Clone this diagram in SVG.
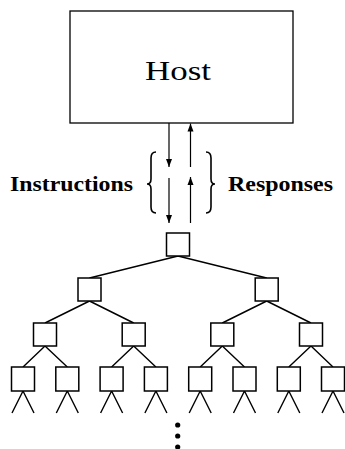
<svg xmlns="http://www.w3.org/2000/svg" width="345" height="449" viewBox="0 0 345 449">
<style>
.bx{fill:#fff;stroke:#000;stroke-width:1.5}
.ln{stroke:#000;stroke-width:1.4;fill:none}
.ar{stroke:#000;stroke-width:1.2;fill:none}
.br{stroke:#000;stroke-width:1.6;fill:none}
.lbl{font-family:"Liberation Serif",serif;font-weight:bold;font-size:21px;fill:#000}
.host{font-family:"Liberation Serif",serif;font-size:28px;fill:#000}
</style>
<defs>
<marker id="ah" viewBox="0 0 8 8" refX="8" refY="4" markerWidth="8" markerHeight="8" markerUnits="userSpaceOnUse" orient="auto">
<path d="M0,1 L8,4 L0,7 Z" fill="#000"/>
</marker>
</defs>
<rect width="345" height="449" fill="#fff"/>
<g id="host">
<rect x="70" y="11" width="223" height="112" fill="#fff" stroke="#000" stroke-width="1.3"/>
<text class="host" x="178" y="80" text-anchor="middle" textLength="66" lengthAdjust="spacingAndGlyphs">Host</text>
</g>
<g id="labels">
<text class="lbl" x="10" y="191" textLength="123" lengthAdjust="spacingAndGlyphs">Instructions</text>
<text class="lbl" x="228" y="191" textLength="105" lengthAdjust="spacingAndGlyphs">Responses</text>
<path class="br" d="M156,152 Q151,152 151,158 L151,179 Q151,184 147,184 Q151,184 151,189 L151,207 Q151,213 156,213"/>
<path class="br" d="M206,152 Q211,152 211,158 L211,179 Q211,184 215,184 Q211,184 211,189 L211,207 Q211,213 206,213"/>
</g>
<g id="connectors">
<line class="ar" x1="169" y1="123" x2="169" y2="167" marker-end="url(#ah)"/>
<line class="ar" x1="169" y1="178" x2="169" y2="223" marker-end="url(#ah)"/>
<line class="ar" x1="190.5" y1="167" x2="190.5" y2="123.5" marker-end="url(#ah)"/>
<line class="ar" x1="190.5" y1="223" x2="190.5" y2="177" marker-end="url(#ah)"/>
<path class="ln" d="M178,256 L89.5,278 M178,256 L266.7,278
M89.5,301 L45,323 M89.5,301 L133.7,323 M266.7,301 L222.3,323 M266.7,301 L311,323
M45,346 L23,367 M45,346 L67.3,367 M133.7,346 L111.6,367 M133.7,346 L155.9,367
M222.3,346 L200.2,367 M222.3,346 L244.5,367 M311,346 L288.8,367 M311,346 L333,367
M23,391 L12,413 M23,391 L34,413 M67.3,391 L56.3,413 M67.3,391 L78.3,413
M111.6,391 L100.6,413 M111.6,391 L122.6,413 M155.9,391 L144.9,413 M155.9,391 L166.9,413
M200.2,391 L189.2,413 M200.2,391 L211.2,413 M244.5,391 L233.5,413 M244.5,391 L255.5,413
M288.8,391 L277.8,413 M288.8,391 L299.8,413 M333,391 L322,413 M333,391 L344,413"/>
</g>
<g id="n1"><rect class="bx" x="166.5" y="233" width="23" height="23"/></g>
<g id="n2"><rect class="bx" x="78" y="278" width="23" height="23"/></g>
<g id="n3"><rect class="bx" x="255.2" y="278" width="23" height="23"/></g>
<g id="n4"><rect class="bx" x="33.5" y="323" width="23" height="23"/></g>
<g id="n5"><rect class="bx" x="122.2" y="323" width="23" height="23"/></g>
<g id="n6"><rect class="bx" x="210.8" y="323" width="23" height="23"/></g>
<g id="n7"><rect class="bx" x="299.5" y="323" width="23" height="23"/></g>
<g id="n8"><rect class="bx" x="11.5" y="367" width="23" height="24"/></g>
<g id="n9"><rect class="bx" x="55.8" y="367" width="23" height="24"/></g>
<g id="n10"><rect class="bx" x="100.1" y="367" width="23" height="24"/></g>
<g id="n11"><rect class="bx" x="144.4" y="367" width="23" height="24"/></g>
<g id="n12"><rect class="bx" x="188.7" y="367" width="23" height="24"/></g>
<g id="n13"><rect class="bx" x="233" y="367" width="23" height="24"/></g>
<g id="n14"><rect class="bx" x="277.3" y="367" width="23" height="24"/></g>
<g id="n15"><rect class="bx" x="321.5" y="367" width="23" height="24"/></g>
<g id="dots">
<circle cx="177.7" cy="425" r="2.6"/>
<circle cx="177.7" cy="436" r="2.6"/>
<circle cx="177.7" cy="447" r="2.6"/>
</g>
</svg>
